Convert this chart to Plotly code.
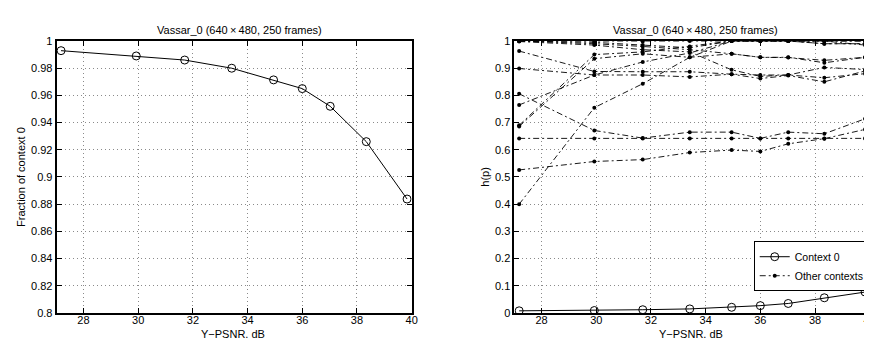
import plotly.graph_objects as go

# ---------------- data ----------------
psnr = [27.18, 29.93, 31.70, 33.42, 34.95, 36.00, 37.02, 38.34, 39.83]

frac_context0 = [0.9929, 0.9890, 0.9860, 0.9800, 0.9714, 0.9650, 0.9520, 0.9260, 0.8838]

h_context0 = [0.008, 0.009, 0.012, 0.015, 0.021, 0.027, 0.035, 0.056, 0.077]

h_other = [
    [1.000, 1.000, 0.998, 1.000, 1.000, 1.000, 1.000, 1.000, 1.000],
    [1.000, 0.995, 0.985, 0.975, 1.000, 1.000, 1.000, 0.990, 0.990],
    [1.000, 0.990, 0.980, 0.968, 0.953, 0.940, 0.939, 0.929, 0.940],
    [0.998, 0.985, 0.968, 0.960, 0.894, 0.870, 0.875, 0.903, 0.895],
    [0.963, 0.888, 0.887, 0.887, 0.878, 0.875, 0.875, 0.865, 0.880],
    [0.899, 0.875, 0.875, 0.868, 0.878, 0.862, 0.873, 0.850, 0.890],
    [0.765, 0.875, 0.923, 0.956, 1.000, 1.000, 1.000, 1.000, 0.985],
    [0.686, 0.935, 0.953, 0.940, 0.953, 0.940, 0.940, 0.920, 0.940],
    [0.690, 0.950, 0.960, 0.980, 1.000, 1.000, 1.000, 1.000, 1.000],
    [0.400, 0.755, 0.843, 0.940, 1.000, 1.000, 1.000, 0.990, 0.990],
    [0.806, 0.671, 0.643, 0.665, 0.665, 0.642, 0.665, 0.659, 0.714],
    [0.642, 0.642, 0.642, 0.642, 0.642, 0.642, 0.642, 0.642, 0.642],
    [0.526, 0.557, 0.564, 0.590, 0.599, 0.594, 0.622, 0.641, 0.675],
]

x_ticks = [28, 30, 32, 34, 36, 38, 40]
x_ticktext = ["28", "30", "32", "34", "36", "38", "40"]
left_yticks = [0.8, 0.82, 0.84, 0.86, 0.88, 0.9, 0.92, 0.94, 0.96, 0.98, 1.0]
left_yticktext = ["0.8", "0.82", "0.84", "0.86", "0.88", "0.9", "0.92", "0.94", "0.96", "0.98", "1"]
right_yticks = [0, 0.1, 0.2, 0.3, 0.4, 0.5, 0.6, 0.7, 0.8, 0.9, 1.0]
right_yticktext = ["0", "0.1", "0.2", "0.3", "0.4", "0.5", "0.6", "0.7", "0.8", "0.9", "1"]

title_text = "Vassar_0 (640\u2009\u00d7\u2009480, 250 frames)"
xlabel = "Y\u2212PSNR, dB"

W, H = 872, 338
FONT = "Liberation Sans, Arial, Helvetica, sans-serif"
DASHDOT = "6px,3px,2px,3px"

fig = go.Figure()

# left plot
fig.add_trace(go.Scatter(
    x=psnr, y=frac_context0, mode="lines+markers",
    line=dict(color="black", width=1),
    marker=dict(symbol="circle-open", size=8, color="black", line=dict(width=1)),
    xaxis="x", yaxis="y", showlegend=False,
))

# right plot: other contexts
for i, series in enumerate(h_other):
    fig.add_trace(go.Scatter(
        x=psnr, y=series, mode="lines+markers",
        line=dict(color="black", width=0.9, dash=DASHDOT),
        marker=dict(symbol="circle", size=4, color="black"),
        xaxis="x2", yaxis="y2",
        name="Other contexts", legendgroup="other",
        showlegend=False,
    ))
fig.add_trace(go.Scatter(
    x=psnr, y=h_context0, mode="lines+markers",
    line=dict(color="black", width=1),
    marker=dict(symbol="circle-open", size=8, color="black", line=dict(width=1)),
    xaxis="x2", yaxis="y2", name="Context 0", legendrank=1,
))
fig.add_trace(go.Scatter(
    x=[None], y=[None], mode="lines+markers",
    line=dict(color="black", width=0.9, dash=DASHDOT),
    marker=dict(symbol="circle", size=4, color="black"),
    xaxis="x2", yaxis="y2", name="Other contexts", legendrank=2,
))

ydom = [(H - 310) / H, (H - 28) / H]
axis_common = dict(
    showline=True, linecolor="black", linewidth=2, mirror="allticks",
    ticks="inside", ticklen=5, tickcolor="black", tickwidth=1,
    showgrid=True, gridcolor="#8a8a8a", gridwidth=1, griddash="1px,3px",
    zeroline=False, tickfont=dict(family=FONT, size=11, color="black"),
)

fig.update_layout(
    width=W, height=H,
    margin=dict(l=0, r=0, t=0, b=0),
    paper_bgcolor="white", plot_bgcolor="white",
    font=dict(family=FONT, size=11, color="black"),
    xaxis=dict(domain=[49 / W, 406.5 / W], range=[27.02, 40], tickvals=x_ticks,
               ticktext=x_ticktext, anchor="y", ticklabelstandoff=-4, **axis_common),
    yaxis=dict(domain=ydom, range=[0.8, 1.0], tickvals=left_yticks,
               ticktext=left_yticktext, anchor="x", **axis_common),
    xaxis2=dict(domain=[510 / W, 867.7 / W], range=[27.01, 40], tickvals=x_ticks,
                ticktext=x_ticktext, anchor="y2", ticklabelstandoff=-4, **axis_common),
    yaxis2=dict(domain=ydom, range=[0, 1.0], tickvals=right_yticks,
                ticktext=right_yticktext, anchor="x2", **axis_common),
    legend=dict(
        x=867.7 / W, xanchor="right", y=(H - 261.5) / H, yanchor="middle",
        bgcolor="white", bordercolor="black", borderwidth=1,
        font=dict(family=FONT, size=10.5, color="black"),
        itemwidth=30, tracegroupgap=0,
    ),
    annotations=[
        dict(text=title_text, x=233 / W, y=(H - 17) / H, xref="paper", yref="paper",
             showarrow=False, font=dict(size=11), xanchor="center", yanchor="middle"),
        dict(text=title_text, x=692.5 / W, y=(H - 17) / H, xref="paper", yref="paper",
             showarrow=False, font=dict(size=11), xanchor="center", yanchor="middle"),
        dict(text=xlabel, x=226.5 / W, y=(H - 331.5) / H, xref="paper", yref="paper",
             showarrow=False, font=dict(size=11), xanchor="center", yanchor="middle"),
        dict(text=xlabel, x=688 / W, y=(H - 331.5) / H, xref="paper", yref="paper",
             showarrow=False, font=dict(size=11), xanchor="center", yanchor="middle"),
        dict(text="Fraction of context 0", x=13 / W, y=0.5, xref="paper", yref="paper",
             showarrow=False, font=dict(size=11), textangle=-90,
             xanchor="center", yanchor="middle"),
        dict(text="h(p)", x=480 / W, y=0.5, xref="paper", yref="paper",
             showarrow=False, font=dict(size=11), textangle=-90,
             xanchor="center", yanchor="middle"),
    ],
)

fig.write_html("out.html")
